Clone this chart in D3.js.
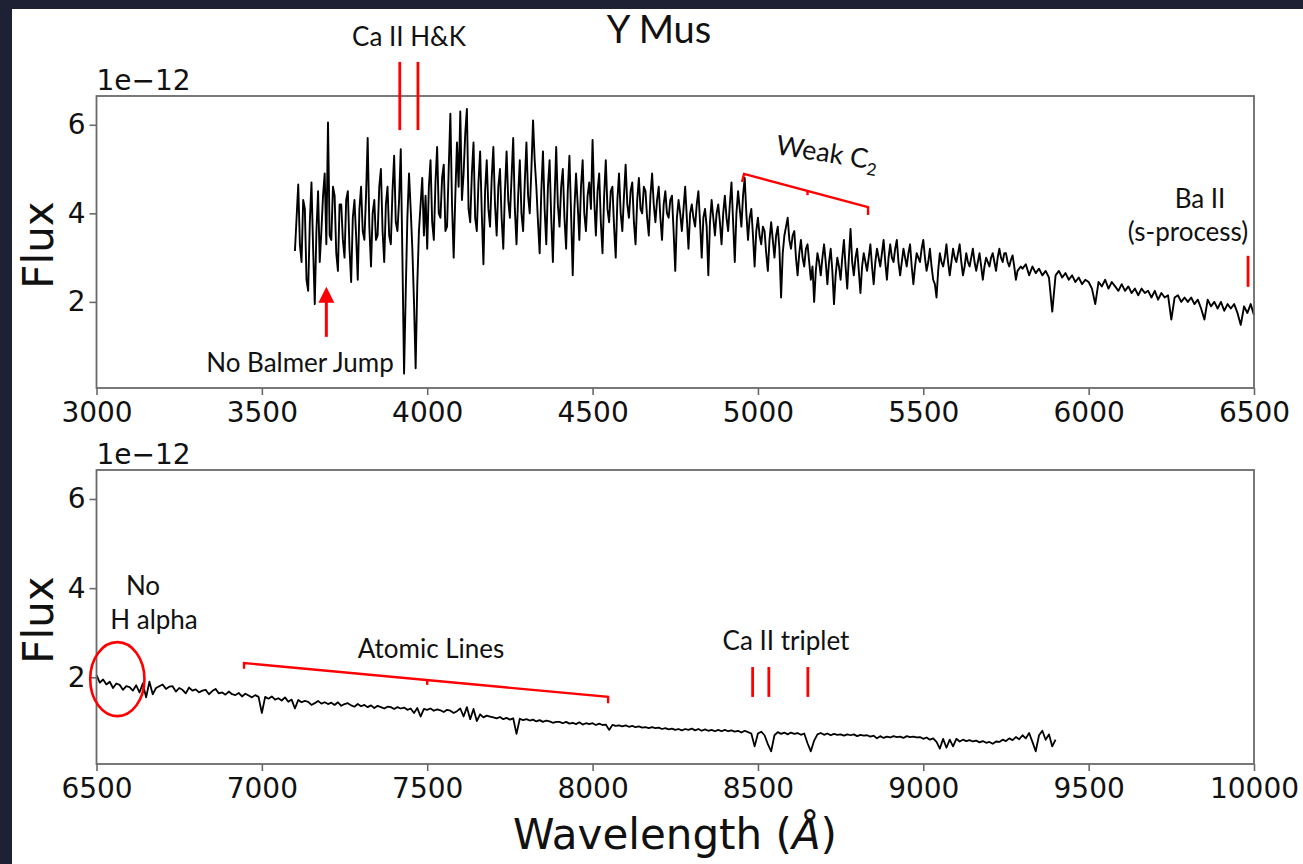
<!DOCTYPE html>
<html>
<head>
<meta charset="utf-8">
<script src="https://cdn.jsdelivr.net/npm/d3@7"></script>
<style>
  html, body { margin: 0; padding: 0; background: #1e2033; }
  svg { display: block; }
</style>
</head>
<body>
<svg id="chart" width="1303" height="864"></svg>
<script>
// ---- spectrum of Y Mus, flux in units of 1e-12 ----
// blue arm: 5 Å sampling from 3600 Å, then 10 Å sampling from 5800 Å
const blueFineStart = 3600, blueFineStep = 5;
const blueFineFlux = [
  3.15, 3.9, 4.65, 3.3, 2.9, 4.3, 4.1, 2.5, 2.25, 3.8, 4.7, 3.2, 1.95, 3.6, 4.5, 2.9, 3.6, 4.4, 4.9, 3.3,   // 3600
  6.05, 3.5, 3.4, 4.6, 4.4, 3.1, 2.7, 4.2, 4.2, 3.4, 3.0, 4.3, 4.5, 3.2, 2.45, 3.9, 4.3, 3.5, 2.5, 4.1,   // 3700
  4.6, 3.6, 3.4, 4.4, 5.7, 3.7, 2.8, 4.0, 4.3, 3.4, 3.5, 4.6, 5.0, 3.6, 2.9, 4.2, 4.6, 3.5, 3.3, 4.5,     // 3800
  5.3, 3.8, 3.6, 4.3, 5.45, 3.0, 0.38, 2.2, 3.9, 4.9, 4.1, 3.2, 2.0, 0.5, 2.4, 3.6, 4.2, 4.8, 3.5, 4.4,   // 3900
  3.2, 4.6, 5.2, 3.8, 3.4, 4.7, 5.5, 4.0, 3.9, 4.8, 5.1, 3.6, 3.7, 5.0, 6.25, 4.2, 3.0, 4.4, 5.6, 4.6,    // 4000
  6.3, 4.3, 4.9, 5.8, 6.36, 4.1, 3.8, 4.9, 5.6, 3.9, 3.6, 4.7, 5.4, 4.0, 2.85, 4.5, 5.2, 4.1, 3.7, 4.8,   // 4100
  5.5, 4.2, 3.5, 4.6, 5.0, 3.9, 3.2, 4.5, 5.4, 4.3, 3.9, 4.8, 5.7, 4.1, 3.3, 4.4, 5.2, 4.0, 3.6, 4.7,     // 4200
  5.6, 4.4, 4.0, 5.0, 6.1, 5.2, 4.6, 3.8, 3.1, 4.5, 5.4, 4.1, 3.3, 4.6, 5.2, 3.9, 2.9, 4.3, 5.5, 4.2,     // 4300
  3.7, 4.6, 5.0, 3.9, 3.2, 4.5, 5.3, 4.0, 2.6, 4.1, 4.9, 4.2, 3.4, 4.6, 5.2, 4.0, 3.6, 4.4, 4.7, 4.1,     // 4400
  5.66, 4.3, 3.5, 4.5, 4.9, 3.8, 3.1, 4.4, 5.2, 4.1, 3.8, 4.5, 4.6, 3.7, 3.0, 4.3, 4.9, 4.0, 3.6, 4.4,    // 4500
  5.1, 4.2, 3.9, 4.5, 4.7, 3.8, 3.3, 4.3, 4.8, 4.1, 4.0, 4.6, 4.5, 3.9, 3.5, 4.4, 4.9, 4.2, 3.8, 4.3,     // 4600
  4.6, 3.9, 3.4, 4.2, 4.5, 4.0, 3.9, 4.3, 4.4, 3.6, 2.7, 3.9, 4.3, 4.0, 3.6, 4.1, 4.6, 3.9, 3.2, 4.0,     // 4700
  4.2, 3.9, 3.7, 4.2, 4.5, 3.8, 3.0, 3.9, 4.1, 3.7, 2.6, 3.8, 4.3, 3.9, 3.5, 4.0, 4.2, 3.8, 3.3, 4.0,     // 4800
  4.4, 3.9, 3.6, 4.2, 4.7, 3.8, 2.9, 4.0, 4.5, 4.1, 3.7, 4.4, 4.8, 4.0, 3.4, 3.9, 4.1, 3.5, 2.8, 3.6,     // 4900
  3.9, 3.5, 3.3, 3.7, 3.6, 3.1, 2.7, 3.4, 3.8, 3.4, 3.0, 3.5, 3.7, 3.2, 2.1, 3.1, 3.5, 3.7, 3.9, 3.4,     // 5000
  3.2, 3.5, 3.6, 3.0, 2.6, 3.1, 3.4, 3.0, 2.8, 3.2, 3.3, 2.9, 2.5, 2.8, 2.0, 2.7, 3.1, 2.9, 2.6, 3.0,     // 5100
  3.3, 2.9, 2.4, 2.9, 3.2, 2.7, 1.95, 2.6, 3.0, 2.8, 2.5, 3.0, 3.4, 2.8, 2.3, 3.0, 3.65, 2.9, 2.6, 3.0,   // 5200
  3.2, 2.7, 2.2, 2.8, 3.1, 2.9, 2.7, 3.0, 3.3, 2.8, 2.4, 2.9, 3.2, 3.0, 2.8, 3.1, 3.4, 2.9, 2.5, 3.0,     // 5300
  3.3, 3.0, 2.9, 3.2, 3.4, 2.9, 2.6, 2.9, 3.2, 3.0, 2.8, 3.1, 3.3, 2.8, 2.4, 2.8, 3.1, 3.0, 2.9, 3.2,     // 5400
  3.4, 3.0, 2.7, 2.9, 3.2, 2.8, 2.5, 2.4, 2.1, 2.7, 3.1, 2.9, 2.8, 3.0, 3.3, 2.9, 2.6, 2.9, 3.2, 3.0,     // 5500
  2.9, 3.1, 3.3, 2.9, 2.6, 2.8, 3.1, 2.9, 2.8, 3.0, 3.2, 2.9, 2.7, 2.9, 3.1, 2.8, 2.5, 2.8, 3.0, 2.9,     // 5600
  2.8, 3.0, 3.1, 2.9, 2.7, 3.0, 3.2, 3.0, 2.9, 3.1, 3.1, 2.9, 2.8, 2.95, 3.05, 2.8, 2.5, 2.7, 2.75, 2.8   // 5700
];
const blueCoarseStart = 5800, blueCoarseStep = 10;
const blueCoarseFlux = [
  2.75, 2.85, 2.6, 2.8, 2.65, 2.75, 2.6, 2.7, 2.55, 1.78,    // 5800
  2.6, 2.7, 2.55, 2.65, 2.5, 2.6, 2.45, 2.55, 2.4, 2.5,      // 5900
  2.45, 2.3, 1.95, 2.45, 2.35, 2.5, 2.3, 2.45, 2.35, 2.25,   // 6000
  2.4, 2.25, 2.35, 2.2, 2.3, 2.15, 2.3, 2.2, 2.25, 2.1,      // 6100
  2.25, 2.05, 2.2, 2.1, 2.15, 1.6, 2.1, 2.15, 2.0, 2.1,      // 6200
  2.0, 2.1, 1.95, 2.05, 1.85, 1.6, 2.05, 1.9, 2.0, 1.85,     // 6300
  2.0, 1.8, 1.95, 1.85, 1.95, 1.75, 1.48, 1.9, 1.75, 1.95,   // 6400
  1.7                                                         // 6500
];

// red arm: 10 Å sampling from 6500 Å
const redStart = 6500, redStep = 10;
const redFlux = [
  2.05, 1.88, 1.95, 1.84, 1.9, 1.76, 1.86, 1.83, 1.72, 1.8,   // 6500
  1.78, 1.7, 1.82, 1.66, 1.86, 1.55, 1.9, 1.62, 1.76, 1.8,    // 6600
  1.84, 1.74, 1.79, 1.8, 1.68, 1.76, 1.72, 1.64, 1.77, 1.7,   // 6700
  1.73, 1.66, 1.7, 1.72, 1.62, 1.69, 1.74, 1.64, 1.66, 1.61,  // 6800
  1.68, 1.62, 1.6, 1.65, 1.57, 1.63, 1.59, 1.55, 1.6, 1.56,   // 6900
  1.2, 1.56, 1.52, 1.57, 1.5, 1.53, 1.48, 1.55, 1.45, 1.5,    // 7000
  1.3, 1.49, 1.44, 1.47, 1.45, 1.38, 1.42, 1.47, 1.41, 1.44,  // 7100
  1.4, 1.43, 1.38, 1.44, 1.36, 1.4, 1.42, 1.37, 1.34, 1.4,    // 7200
  1.35, 1.38, 1.33, 1.37, 1.31, 1.36, 1.33, 1.3, 1.34, 1.33,  // 7300
  1.29, 1.33, 1.3, 1.32, 1.27, 1.3, 1.2, 1.31, 1.12, 1.29,    // 7400
  1.27, 1.3, 1.25, 1.28, 1.26, 1.22, 1.27, 1.25, 1.2, 1.24,   // 7500
  1.3, 1.12, 1.33, 1.06, 1.29, 1.02, 1.17, 1.1, 1.14, 1.12,   // 7600
  1.1, 1.08, 1.11, 1.06, 1.09, 1.05, 1.08, 0.73, 1.07, 1.04,  // 7700
  1.06, 1.03, 1.05, 1.01, 1.04, 1.0, 1.03, 1.01, 0.98, 1.0,   // 7800
  1.0, 0.97, 1.0, 0.96, 0.98, 0.95, 0.99, 0.94, 0.97, 0.95,   // 7900
  0.97, 0.93, 0.96, 0.93, 0.94, 0.82, 0.93, 0.91, 0.92, 0.9,  // 8000
  0.92, 0.89, 0.91, 0.88, 0.9, 0.87, 0.88, 0.86, 0.88, 0.86,  // 8100
  0.87, 0.84, 0.86, 0.83, 0.85, 0.82, 0.84, 0.81, 0.84, 0.82, // 8200
  0.85, 0.81, 0.84, 0.8, 0.83, 0.8, 0.82, 0.79, 0.82, 0.79,   // 8300
  0.82, 0.79, 0.81, 0.78, 0.8, 0.76, 0.8, 0.77, 0.74, 0.45,   // 8400
  0.74, 0.78, 0.7, 0.5, 0.34, 0.7, 0.77, 0.73, 0.76, 0.72,    // 8500
  0.76, 0.73, 0.75, 0.71, 0.74, 0.52, 0.34, 0.58, 0.72, 0.75, // 8600
  0.71, 0.74, 0.7, 0.73, 0.71, 0.72, 0.69, 0.72, 0.7, 0.72,   // 8700
  0.68, 0.71, 0.69, 0.7, 0.67, 0.69, 0.63, 0.68, 0.64, 0.67,  // 8800
  0.65, 0.68, 0.66, 0.67, 0.64, 0.68, 0.66, 0.67, 0.65, 0.66, // 8900
  0.62, 0.65, 0.6, 0.63, 0.55, 0.4, 0.62, 0.42, 0.6, 0.45,    // 9000
  0.62, 0.56, 0.6, 0.57, 0.59, 0.56, 0.58, 0.54, 0.57, 0.53,  // 9100
  0.55, 0.51, 0.56, 0.55, 0.6, 0.57, 0.63, 0.59, 0.66, 0.61,  // 9200
  0.7, 0.63, 0.75, 0.55, 0.34, 0.7, 0.8, 0.6, 0.72, 0.45,     // 9300
  0.6                                                          // 9400
];

// axis ticks
const blueTicks = [3000, 3500, 4000, 4500, 5000, 5500, 6000, 6500];
const redTicks = [6500, 7000, 7500, 8000, 8500, 9000, 9500, 10000];
const fluxTicks = [2, 4, 6];
const blueRange = [3000, 6500];
const redRange = [6500, 10000];
const fluxRange = [0.055, 6.65];

// line identifications (wavelength in Å, flux extent of the marker)
const caHK = [3917, 3972];
const caHKSpan = [5.88, 7.42];
const baII = [6482];
const baIISpan = [2.34, 3.04];
const balmerArrow = { w: 3695, from: 1.21, to: 2.34 };
const c2Bracket = [[4952, 4.71], [4958, 4.89], [5333, 4.14], [5333, 3.96]];
const c2Tick = [[5150, 4.51], [5150, 4.41]];
const atomicBracket = [[6946, 2.19], [6946, 2.32], [8047, 1.56], [8047, 1.42]];
const atomicTick = [[7500, 1.94], [7500, 1.83]];
const caTriplet = [8484, 8533, 8651];
const caTripletSpan = [1.56, 2.23];
const hAlpha = { w: 6563, f: 1.96, dw: 82, df: 0.83 };

const blueSeries = blueFineFlux.map((f, i) => ({ w: blueFineStart + i * blueFineStep, f }))
  .concat(blueCoarseFlux.map((f, i) => ({ w: blueCoarseStart + i * blueCoarseStep, f })));
const redSeries = redFlux.map((f, i) => ({ w: redStart + i * redStep, f }));

const svg = d3.select("#chart");
const RED = "#ff0000";
const FRAME = "#6a6a6a";
const TXT = "#111111";
const MPL = "DejaVu Sans, sans-serif";
const NOTE = "Lato, 'Open Sans', sans-serif";

// white figure area
svg.append("rect").attr("x", 12).attr("y", 9).attr("width", 1303 - 12).attr("height", 864 - 9).attr("fill", "#ffffff");

const left = 96.5, right = 1254;
const panels = [
  { top: 96, bottom: 388, domain: blueRange, ticks: blueTicks, data: blueSeries, lw: 1.9 },
  { top: 470, bottom: 764, domain: redRange, ticks: redTicks, data: redSeries, lw: 1.8 }
];

panels.forEach(p => {
  p.x = d3.scaleLinear().domain(p.domain).range([left, right]);
  p.y = d3.scaleLinear().domain(fluxRange).range([p.bottom, p.top]);

  const g = svg.append("g");

  // spectrum
  g.append("path")
    .datum(p.data)
    .attr("fill", "none")
    .attr("stroke", "#000")
    .attr("stroke-width", p.lw)
    .attr("stroke-linejoin", "round")
    .attr("d", d3.line().x(d => p.x(d.w)).y(d => p.y(d.f)));

  // frame
  g.append("rect")
    .attr("x", left).attr("y", p.top)
    .attr("width", right - left).attr("height", p.bottom - p.top)
    .attr("fill", "none").attr("stroke", FRAME).attr("stroke-width", 1.8);

  const xa = g.append("g").attr("transform", `translate(0,${p.bottom})`)
    .call(d3.axisBottom(p.x).tickValues(p.ticks).tickSize(7).tickPadding(7).tickFormat(d3.format("d")));
  const ya = g.append("g").attr("transform", `translate(${left},0)`)
    .call(d3.axisLeft(p.y).tickValues(fluxTicks).tickSize(7).tickPadding(4).tickFormat(d3.format("d")));
  [xa, ya].forEach(a => {
    a.select(".domain").remove();
    a.selectAll(".tick line").attr("stroke", FRAME).attr("stroke-width", 1.6);
    a.selectAll(".tick text").attr("fill", TXT).attr("font-family", MPL).attr("font-size", 28);
  });

  // offset text
  g.append("text").attr("x", left).attr("y", p.top - 6)
    .attr("font-family", MPL).attr("font-size", 28).attr("fill", TXT)
    .text("1e\u221212");

  // y label
  g.append("text")
    .attr("transform", `translate(53,${(p.top + p.bottom) / 2 + 3}) rotate(-90)`)
    .attr("text-anchor", "middle")
    .attr("font-family", MPL).attr("font-size", 42).attr("fill", TXT)
    .text("Flux");
});

// x label
const xl = svg.append("text").attr("x", 675).attr("y", 849)
  .attr("text-anchor", "middle").attr("font-family", MPL).attr("font-size", 42).attr("fill", TXT);
xl.append("tspan").text("Wavelength (");
xl.append("tspan").attr("font-style", "italic").text("\u00C5");
xl.append("tspan").text(")");

// ---- annotations ----
const note = (x, y, s, size = 26, anchor = "middle") =>
  svg.append("text").attr("x", x).attr("y", y).attr("text-anchor", anchor)
    .attr("font-family", NOTE).attr("font-size", size).attr("fill", TXT).text(s);

const upper = panels[0], lower = panels[1];
const segLine = d3.line().x(d => d[0]).y(d => d[1]);

// title
note(659, 43, "Y Mus", 38);

// Ca II H & K
note(409, 46, "Ca II H&K");
caHK.forEach(w => {
  svg.append("line").attr("x1", upper.x(w)).attr("x2", upper.x(w))
    .attr("y1", upper.y(caHKSpan[1])).attr("y2", upper.y(caHKSpan[0]))
    .attr("stroke", RED).attr("stroke-width", 2.8);
});

// Balmer jump arrow
note(300, 372, "No Balmer Jump");
{
  const ax = upper.x(balmerArrow.w), y0 = upper.y(balmerArrow.from), y1 = upper.y(balmerArrow.to);
  svg.append("line").attr("x1", ax).attr("x2", ax).attr("y1", y0).attr("y2", y1 + 14)
    .attr("stroke", RED).attr("stroke-width", 3);
  svg.append("path")
    .attr("d", `M${ax},${y1} L${ax - 8},${y1 + 16} L${ax + 8},${y1 + 16} Z`)
    .attr("fill", RED);
}

// weak C2 bracket
svg.append("path").attr("d", segLine(c2Bracket.map(d => [upper.x(d[0]), upper.y(d[1])])))
  .attr("fill", "none").attr("stroke", RED).attr("stroke-width", 2.4);
svg.append("path").attr("d", segLine(c2Tick.map(d => [upper.x(d[0]), upper.y(d[1])])))
  .attr("fill", "none").attr("stroke", RED).attr("stroke-width", 2.4);
{
  const t = svg.append("text").attr("transform", "translate(775,154) rotate(9)")
    .attr("font-family", NOTE).attr("font-size", 27).attr("fill", TXT);
  t.append("tspan").text("Weak C");
  t.append("tspan").attr("font-size", 17).attr("dy", 6).text("2");
}

// Ba II
note(1200, 208, "Ba II");
note(1188, 241, "(s-process)");
baII.forEach(w => {
  svg.append("line").attr("x1", upper.x(w)).attr("x2", upper.x(w))
    .attr("y1", upper.y(baIISpan[1])).attr("y2", upper.y(baIISpan[0]))
    .attr("stroke", RED).attr("stroke-width", 2.8);
});

// H alpha
note(143, 595, "No");
note(154, 629, "H alpha");
svg.append("ellipse")
  .attr("cx", lower.x(hAlpha.w)).attr("cy", lower.y(hAlpha.f))
  .attr("rx", lower.x(hAlpha.w + hAlpha.dw) - lower.x(hAlpha.w))
  .attr("ry", lower.y(hAlpha.f) - lower.y(hAlpha.f + hAlpha.df))
  .attr("fill", "none").attr("stroke", RED).attr("stroke-width", 2.6);

// atomic lines bracket
note(431, 658, "Atomic Lines");
svg.append("path").attr("d", segLine(atomicBracket.map(d => [lower.x(d[0]), lower.y(d[1])])))
  .attr("fill", "none").attr("stroke", RED).attr("stroke-width", 2.4);
svg.append("path").attr("d", segLine(atomicTick.map(d => [lower.x(d[0]), lower.y(d[1])])))
  .attr("fill", "none").attr("stroke", RED).attr("stroke-width", 2.4);

// Ca II triplet
note(786, 650, "Ca II triplet");
caTriplet.forEach(w => {
  svg.append("line").attr("x1", lower.x(w)).attr("x2", lower.x(w))
    .attr("y1", lower.y(caTripletSpan[1])).attr("y2", lower.y(caTripletSpan[0]))
    .attr("stroke", RED).attr("stroke-width", 2.8);
});
</script>
</body>
</html>
